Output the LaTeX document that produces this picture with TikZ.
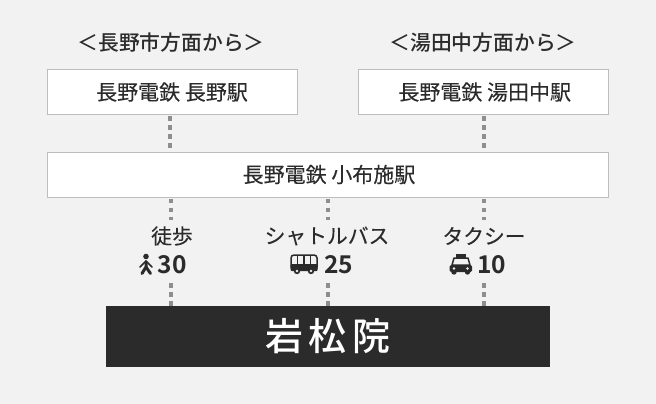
\documentclass[tikz,border=0pt]{standalone}
\usepackage{fontspec}
\setmainfont[FakeBold=0.12]{Noto Sans CJK JP}
\newfontfamily\medf{Noto Sans CJK JP Medium}
\newfontfamily\boldf{Noto Sans CJK JP Bold}
\usetikzlibrary{calc}
\definecolor{bgc}{HTML}{F2F2F2}
\definecolor{ink}{HTML}{2B2B2B}
\definecolor{edge}{HTML}{BDBDBD}
\definecolor{dots}{HTML}{8E8E8E}
\tikzset{
 x=1pt,y=-1pt,
 stationbox/.style={draw=edge,line width=1pt,fill=white,inner sep=0pt,font=\fontsize{21}{22}\selectfont,text=ink},
 heading/.style={inner sep=0pt,text=ink,font=\medf\fontsize{20.8}{22}\selectfont},
 modelabel/.style={inner sep=0pt,text=ink,font=\fontsize{20.8}{22}\selectfont},
 minutes/.style={inner sep=0pt,text=ink,font=\boldf\fontsize{24.5}{26}\selectfont},
 link/.style={draw=dots,line width=4.2pt,dash pattern=on 4.6pt off 4.4pt},
}
\begin{document}
\begin{tikzpicture}
\useasboundingbox[fill=bgc] (0,0) rectangle (656,404);
\node[heading] (h1) at (171,43) {＜長野市方面から＞};
\node[heading] (h2) at (483,43) {＜湯田中方面から＞};
\node[stationbox,minimum width=250pt,minimum height=45pt] (a) at (172,92) {長野電鉄 長野駅};
\node[stationbox,minimum width=249.5pt,minimum height=45pt] (b) at (483.7,92) {\hspace{2pt}長野電鉄 湯田中駅};
\node[stationbox,minimum width=561pt,minimum height=45pt] (c) at (328,174.5) {\hspace{2pt}長野電鉄 小布施駅};
\node[fill=ink,minimum width=444pt,minimum height=61pt,inner sep=0pt,text=white,font=\medf\fontsize{38}{40}\selectfont] (d) at (328,336.5) {\raisebox{-2pt}{岩\hspace{6pt}松\hspace{6pt}院}};
\node[modelabel] (m1) at (172,236) {徒歩};
\node[modelabel] (m2) at (327,236) {シャトルバス};
\node[modelabel] (m3) at (484,236) {タクシー};
\node[minutes] (t1) at (172,265) {30};
\node[minutes] (t2) at (338.5,265) {25};
\node[minutes] (t3) at (491.5,265) {10};
% connectors
\coordinate (u1) at (171,220);\coordinate (u2) at (328,220);\coordinate (u3) at (484,220);
\coordinate (l1) at (171,283);\coordinate (l2) at (328,283);\coordinate (l3) at (484,283);
\draw[link] ($(a.south)+(-2,1)$) -- ($(c.north -| a.south)+(-2,0)$);
\draw[link] ($(b.south)+(0.3,1)$) -- ($(c.north -| b.south)+(0.3,0)$);
\draw[link] (c.south -| u1) ++(0,1) -- (u1);
\draw[link] (c.south -| u2) ++(0,1) -- (u2);
\draw[link] (c.south -| u3) ++(0,1) -- (u3);
\draw[link] (l1) -- (d.north -| l1);
\draw[link] (l2) -- (d.north -| l2);
\draw[link] (l3) -- (d.north -| l3);
\begin{scope}[ink]
% walker
\fill (146,256.5) circle (2.8);
\draw[line width=3pt,line cap=round,line join=round] (146,262) -- (146,267) -- (142,273.5);
\draw[line width=3pt,line cap=round,line join=round] (146,267) -- (150.5,273.5);
\draw[line width=1.7pt,line cap=round,line join=round] (146,261) -- (140,267);
\draw[line width=1.7pt,line cap=round,line join=round] (146,261) -- (152,267);
% bus
\draw[line width=1.5pt,rounded corners=3pt,fill=bgc] (291,255) rectangle (317,270);
\fill[rounded corners=1pt] (290.5,264) rectangle (317.5,271);
\foreach \xx in {297.5,304,310.5}{\draw[line width=1.5pt] (\xx,255.5) -- (\xx,264);}
\fill (297,271) circle (3.2); \fill (311,271) circle (3.2);
\fill[bgc] (297,271) circle (1.3); \fill[bgc] (311,271) circle (1.3);
% taxi
\fill (456,254) rectangle (466,258);
\draw[line width=1.5pt,fill=bgc,line join=round] (454,258) -- (468,258) -- (470,265) -- (452,265) -- cycle;
\fill[rounded corners=1.5pt] (449.5,265) rectangle (472,272);
\fill (454,272) circle (2.7); \fill (467.5,272) circle (2.7);
\fill[bgc] (454,268.5) circle (1.3); \fill[bgc] (467.5,268.5) circle (1.3);
\end{scope}
\end{tikzpicture}
\end{document}
